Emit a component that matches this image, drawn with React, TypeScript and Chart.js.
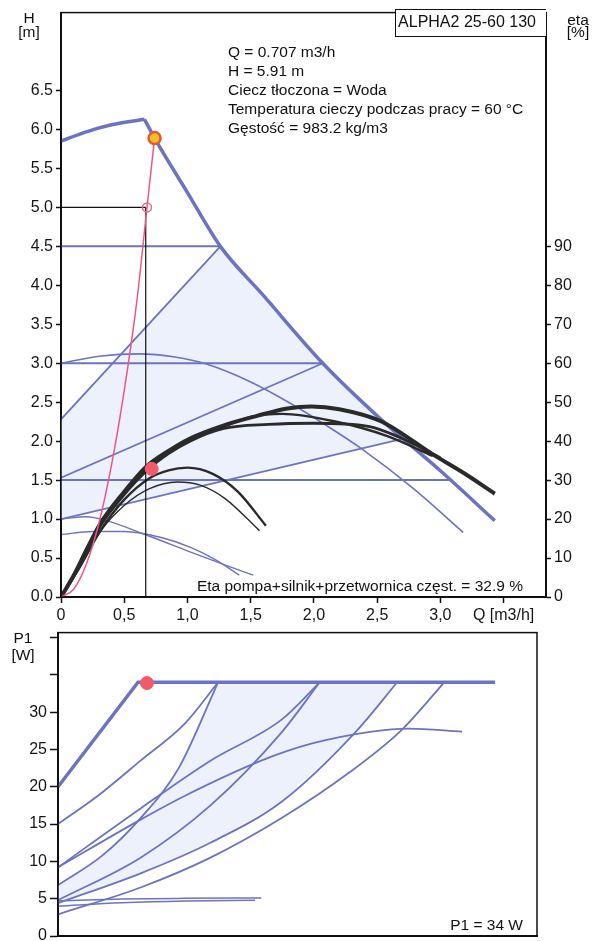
import React, { useEffect, useRef } from "react";
import { Chart, registerables } from "chart.js";
Chart.register(...registerables);

type P = [number, number];
const FONT = "'Liberation Sans', Arial, sans-serif";

// ---------- ticks ----------
const qTicks = [0, 0.5, 1.0, 1.5, 2.0, 2.5, 3.0, 3.5];
const qTickLabels = ["0", "0,5", "1,0", "1,5", "2,0", "2,5", "3,0", "Q [m3/h]"];
const hTicks = [0, 0.5, 1.0, 1.5, 2.0, 2.5, 3.0, 3.5, 4.0, 4.5, 5.0, 5.5, 6.0, 6.5];
const hTickLabels = ["0.0", "0.5", "1.0", "1.5", "2.0", "2.5", "3.0", "3.5", "4.0", "4.5", "5.0", "5.5", "6.0", "6.5"];
const etaTicks = [0, 10, 20, 30, 40, 50, 60, 70, 80, 90];
const p1Ticks = [0, 5, 10, 15, 20, 25, 30, 35, 40];
const p1TickLabels = ["0", "5", "10", "15", "20", "25", "30", "", ""];

// ---------- H(Q) curves [m3/h, m] ----------
const maxCurveRise: P[] = [[0, 5.85], [0.2, 5.97], [0.4, 6.06], [0.66, 6.13]];
const maxCurveFall: P[] = [[0.66, 6.13], [0.74, 5.89], [1.0, 5.19], [1.26, 4.5], [1.6, 3.87], [2.07, 3.0], [2.53, 2.28], [3.0, 1.62], [3.43, 0.98]];
const cp3: P[] = [[0, 4.5], [1.26, 4.5]];
const cp2: P[] = [[0, 3.0], [2.07, 3.0]];
const cp1: P[] = [[0, 1.5], [3.07, 1.5]];
const pp3: P[] = [[0, 2.28], [1.26, 4.5]];
const pp2: P[] = [[0, 1.53], [2.07, 3.0]];
const pp1: P[] = [[0, 1.0], [2.7, 2.03]];
const speed3: P[] = [[0, 3.0], [0.3, 3.09], [0.62, 3.12], [0.9, 3.08], [1.15, 2.99], [1.5, 2.76], [1.82, 2.48], [2.1, 2.2], [2.37, 1.91], [2.78, 1.4], [3.18, 0.83]];
const speed1: P[] = [[0, 1.0], [0.2, 1.03], [0.36, 0.98], [0.7, 0.78], [1.02, 0.58], [1.3, 0.41], [1.52, 0.28]];
const speed0: P[] = [[0, 0.8], [0.25, 0.84], [0.5, 0.84], [0.8, 0.76], [1.02, 0.64], [1.22, 0.48], [1.41, 0.28]];
const systemCurve: P[] = [[0, 0], [0.1, 0.1], [0.2, 0.42], [0.3, 0.95], [0.4, 1.7], [0.5, 2.65], [0.6, 3.8], [0.68, 5.0], [0.74, 5.89]];
const refLineV: P[] = [[0.67, 0], [0.67, 5.0]];
const refLineH: P[] = [[0, 5.0], [0.67, 5.0]];
const refPoint: P[] = [[0.68, 5.0]];
const dutyPoint: P[] = [[0.74, 5.89]];

// ---------- eta(Q) curves [m3/h, %] ----------
const eta1: P[] = [[0, 0], [0.1, 5.5], [0.2, 12], [0.31, 18.8], [0.5, 27], [0.68, 33.6], [0.85, 37.5], [1.02, 40.7], [1.3, 44.2], [1.55, 46.5], [1.79, 48.4], [1.98, 48.9], [2.2, 48.2], [2.53, 45.1], [2.94, 36.6], [3.2, 31.5], [3.43, 26.5]];
const eta2: P[] = [[0, 0], [0.1, 5.2], [0.2, 11.5], [0.31, 18.2], [0.5, 26.3], [0.68, 32.5], [0.85, 36.8], [1.02, 40], [1.28, 43.2], [1.64, 44.3], [2.0, 44.6], [2.43, 43.8], [2.69, 40.8], [3.0, 35.7]];
const eta3: P[] = [[0, 0], [0.1, 5.3], [0.2, 11.8], [0.31, 18.5], [0.5, 26.7], [0.68, 33.1], [0.85, 37.2], [1.02, 40.4], [1.3, 43.9], [1.5, 46.2], [1.75, 47.0], [2.16, 45.1], [2.58, 41.3], [2.94, 36.2]];
const etaC: P[] = [[0, 0], [0.15, 8], [0.31, 17], [0.5, 25], [0.7, 30.5], [0.85, 32.5], [1.0, 33.2], [1.2, 31.6], [1.4, 27], [1.62, 18.3]];
const etaD: P[] = [[0, 0], [0.15, 7.5], [0.32, 17.2], [0.5, 23.5], [0.7, 27.8], [0.92, 29.5], [1.1, 28.7], [1.3, 25.2], [1.57, 17]];
const etaPoint: P[] = [[0.717, 32.9]];

// ---------- P1(Q) curves [m3/h, W] ----------
const p1Max: P[] = [[0, 20], [0.63, 34], [3.44, 34]];
const p1Cp3: P[] = [[0, 15], [0.33, 19], [0.65, 23.5], [1.0, 28.5], [1.26, 34]];
const p1Pp3: P[] = [[0, 6.8], [0.35, 10.8], [0.65, 15.8], [0.95, 22.5], [1.26, 34]];
const p1Cp2: P[] = [[0, 9.2], [0.65, 17.1], [1.2, 23.5], [1.76, 29], [2.06, 34]];
const p1Speed3: P[] = [[0, 9.2], [0.65, 15.6], [1.0, 18.8], [1.6, 23.5], [2.0, 25.8], [2.47, 27.4], [2.76, 27.8], [3.18, 27.4]];
const p1Pp2: P[] = [[0, 4.8], [0.65, 10.5], [1.2, 17.5], [1.76, 27.3], [2.06, 34]];
const p1Pp1: P[] = [[0, 4.4], [0.65, 8.4], [1.2, 12.5], [1.76, 18], [2.34, 27.3], [2.67, 34]];
const p1Cp1: P[] = [[0, 2.9], [0.65, 6.5], [1.2, 10.5], [1.76, 15.8], [2.3, 22], [2.71, 27.7], [3.04, 34]];
const p1Speed1: P[] = [[0, 4.7], [0.5, 4.95], [1.0, 5.05], [1.6, 5.1]];
const p1Speed0: P[] = [[0, 4.0], [0.5, 4.45], [1.0, 4.7], [1.55, 4.8]];
const p1Point: P[] = [[0.7, 33.9]];

// ---------- helpers ----------
const BLUE = "rgb(108,115,192)";
const FILL = "rgb(236,241,251)";
const BLACK = "#2a2a2a";
const pts = (a: P[]) => a.map(([x, y]) => ({ x, y }));
const line = (data: P[], color: string, width: number, extra: any = {}) => ({
  data: pts(data),
  showLine: true,
  borderColor: color,
  borderWidth: width,
  pointRadius: 0,
  pointHoverRadius: 0,
  fill: false,
  tension: 0,
  order: 5,
  ...extra,
});
const curve = (data: P[], color: string, width: number, extra: any = {}) =>
  line(data, color, width, { cubicInterpolationMode: "monotone", ...extra });
const marker = (data: P[], bg: string, border: string, r: number, bw: number, extra: any = {}) => ({
  data: pts(data),
  showLine: false,
  pointRadius: r,
  pointHoverRadius: r,
  pointBackgroundColor: bg,
  pointBorderColor: border,
  pointBorderWidth: bw,
  order: 0,
  ...extra,
});
const polygon = (data: P[], extra: any = {}) => ({
  data: pts(data),
  showLine: true,
  borderWidth: 0,
  borderColor: "rgba(0,0,0,0)",
  backgroundColor: FILL,
  pointRadius: 0,
  fill: "shape",
  tension: 0,
  order: 20,
  ...extra,
});

const framePlugin = {
  id: "frame",
  afterDatasetsDraw(chart: any) {
    const { ctx, chartArea: a } = chart;
    ctx.save();
    ctx.strokeStyle = "#111";
    ctx.lineWidth = 1.5;
    ctx.strokeRect(a.left, a.top, a.right - a.left, a.bottom - a.top);
    ctx.restore();
  },
};

const tickFont = { family: FONT, size: 16 };
const axisCommon = (ticks: number[], labels: (v: number) => string, tickLen: number) => ({
  type: "linear" as const,
  afterBuildTicks: (s: any) => {
    s.ticks = ticks.map((v) => ({ value: v }));
  },
  ticks: {
    autoSkip: false,
    maxRotation: 0,
    padding: 3,
    color: "#151515",
    font: tickFont,
    callback: (v: any) => labels(Number(v)),
  },
  grid: { drawOnChartArea: false, drawTicks: true, tickLength: tickLen, tickColor: "#111", tickWidth: 1.5 },
  border: { display: true, color: "#111", width: 2 },
});

const qLabel = (v: number) => qTickLabels[qTicks.indexOf(v)] ?? "";
const hLabel = (v: number) => hTickLabels[hTicks.indexOf(v)] ?? "";
const etaLabel = (v: number) => String(v);
const p1Label = (v: number) => p1TickLabels[p1Ticks.indexOf(v)] ?? "";

function Txt(props: { x: number; base: number; size?: number; align?: "left" | "right" | "center"; children: any }) {
  const size = props.size ?? 15.5;
  const align = props.align ?? "left";
  const top = props.base - 0.8465 * size;
  const st: any = {
    position: "absolute",
    top,
    fontSize: size,
    lineHeight: `${size}px`,
    whiteSpace: "nowrap",
    color: "#111",
    fontFamily: FONT,
  };
  if (align === "left") st.left = props.x;
  if (align === "right") { st.right = 600 - props.x; st.textAlign = "right"; }
  if (align === "center") { st.left = props.x - 100; st.width = 200; st.textAlign = "center"; }
  return <div style={st}>{props.children}</div>;
}

export default function App() {
  const topRef = useRef<HTMLCanvasElement>(null);
  const botRef = useRef<HTMLCanvasElement>(null);

  useEffect(() => {
    Chart.defaults.font.family = FONT;
    const topArea: P[] = [
      ...pp3,
      ...maxCurveFall.filter(([q]) => q > 1.26 && q < 2.7),
      ...pp1.slice().reverse(),
      pp3[0],
    ];
    const topChart = new Chart(topRef.current!, {
      type: "scatter",
      data: {
        datasets: [
          marker(dutyPoint, "#f6c21e", "#e8573a", 6, 2.5),
          marker(refPoint, "rgba(255,255,255,0)", "#e86a82", 4.5, 1.5),
          marker(etaPoint, "#f25a6c", "#f25a6c", 6.5, 1, { yAxisID: "y1" }),
          curve(systemCurve, "rgb(238,88,128)", 1.5, { order: 1 }),
          line(refLineV, "#111", 1.2, { order: 1 }),
          line(refLineH, "#111", 1.2, { order: 1 }),
          curve(eta1, BLACK, 4, { yAxisID: "y1", order: 2 }),
          curve(eta2, BLACK, 2.8, { yAxisID: "y1", order: 2 }),
          curve(eta3, BLACK, 2.4, { yAxisID: "y1", order: 2 }),
          curve(etaC, BLACK, 2.4, { yAxisID: "y1", order: 2 }),
          curve(etaD, BLACK, 1.4, { yAxisID: "y1", order: 2 }),
          curve(maxCurveRise, BLUE, 3.5, { order: 3 }),
          curve(maxCurveFall, BLUE, 3.5, { order: 3 }),
          line(cp3, BLUE, 2),
          line(cp2, BLUE, 2),
          line(cp1, BLUE, 2),
          line(pp3, BLUE, 1.8),
          line(pp2, BLUE, 1.8),
          line(pp1, BLUE, 1.8),
          curve(speed3, BLUE, 1.6),
          curve(speed1, BLUE, 1.4),
          curve(speed0, BLUE, 1.4),
          polygon(topArea),
        ] as any,
      },
      options: {
        responsive: false,
        animation: false,
        devicePixelRatio: 1,
        layout: { padding: { top: 8, left: 0, right: 0, bottom: 0 } },
        plugins: { legend: { display: false }, tooltip: { enabled: false } },
        events: [],
        scales: {
          x: { ...axisCommon(qTicks, qLabel, 6), min: 0, max: 3.835, afterFit: (s: any) => { s.height = 31; } },
          y: { ...axisCommon(hTicks, hLabel, 5), position: "left", min: 0, max: 7.5, afterFit: (s: any) => { s.width = 61; } },
          y1: { ...axisCommon(etaTicks, etaLabel, 5), position: "right", min: 0, max: 150, afterFit: (s: any) => { s.width = 54; } },
        } as any,
      },
      plugins: [framePlugin],
    });

    const botArea: P[] = [...p1Pp3, [p1Pp1[p1Pp1.length - 1][0], 34], ...p1Pp1.slice().reverse(), p1Pp3[0]];
    const botX: any = axisCommon(qTicks, qLabel, 6);
    const botChart = new Chart(botRef.current!, {
      type: "scatter",
      data: {
        datasets: [
          marker(p1Point, "#f25a6c", "#f25a6c", 6.5, 1),
          line(p1Max, BLUE, 3.5, { order: 3 }),
          curve(p1Cp3, BLUE, 1.8),
          curve(p1Pp3, BLUE, 1.8),
          curve(p1Cp2, BLUE, 1.8),
          curve(p1Speed3, BLUE, 1.8),
          curve(p1Pp2, BLUE, 1.8),
          curve(p1Pp1, BLUE, 1.8),
          curve(p1Cp1, BLUE, 1.8),
          curve(p1Speed1, BLUE, 1.5),
          curve(p1Speed0, BLUE, 1.5),
          polygon(botArea),
        ] as any,
      },
      options: {
        responsive: false,
        animation: false,
        devicePixelRatio: 1,
        layout: { padding: { top: 9, left: 0, right: 63, bottom: 0 } },
        plugins: { legend: { display: false }, tooltip: { enabled: false } },
        events: [],
        scales: {
          x: {
            ...botX,
            grid: { ...botX.grid, drawTicks: false, tickLength: 0 },
            ticks: { ...botX.ticks, display: false },
            min: 0,
            max: 3.77,
            afterFit: (s: any) => { s.height = 44; },
          },
          y: { ...axisCommon(p1Ticks, p1Label, 8), position: "left", min: 0, max: 40.66, afterFit: (s: any) => { s.width = 58; } },
        } as any,
      },
      plugins: [framePlugin],
    });

    return () => {
      topChart.destroy();
      botChart.destroy();
    };
  }, []);

  return (
    <div style={{ position: "absolute", left: 0, top: 0, width: 600, height: 941, overflow: "hidden", background: "#fff", fontFamily: FONT }}>
      <canvas ref={topRef} width={600} height={628} style={{ position: "absolute", left: 0, top: 0 }} />
      <canvas ref={botRef} width={600} height={360} style={{ position: "absolute", left: 0, top: 620 }} />

      <Txt x={29} base={23} align="center">H</Txt>
      <Txt x={29} base={37} align="center">[m]</Txt>
      <Txt x={578} base={25} align="center">eta</Txt>
      <Txt x={578} base={37} align="center">[%]</Txt>

      <div style={{ position: "absolute", left: 395, top: 9, width: 151, height: 28, border: "1.5px solid #111", borderRight: "none", boxSizing: "border-box", background: "#fff" }} />
      <Txt x={467} base={28} size={16} align="center">ALPHA2 25-60 130</Txt>

      <Txt x={228} base={57}>Q = 0.707 m3/h</Txt>
      <Txt x={228} base={76}>H = 5.91 m</Txt>
      <Txt x={228} base={95}>Ciecz tłoczona = Woda</Txt>
      <Txt x={228} base={114}>Temperatura cieczy podczas pracy = 60 °C</Txt>
      <Txt x={228} base={133}>Gęstość = 983.2 kg/m3</Txt>

      <Txt x={523} base={591} align="right">Eta pompa+silnik+przetwornica częst. = 32.9 %</Txt>

      <Txt x={23} base={643} align="center">P1</Txt>
      <Txt x={23} base={660} align="center">[W]</Txt>
      <Txt x={523} base={930} align="right">P1 = 34 W</Txt>
    </div>
  );
}
